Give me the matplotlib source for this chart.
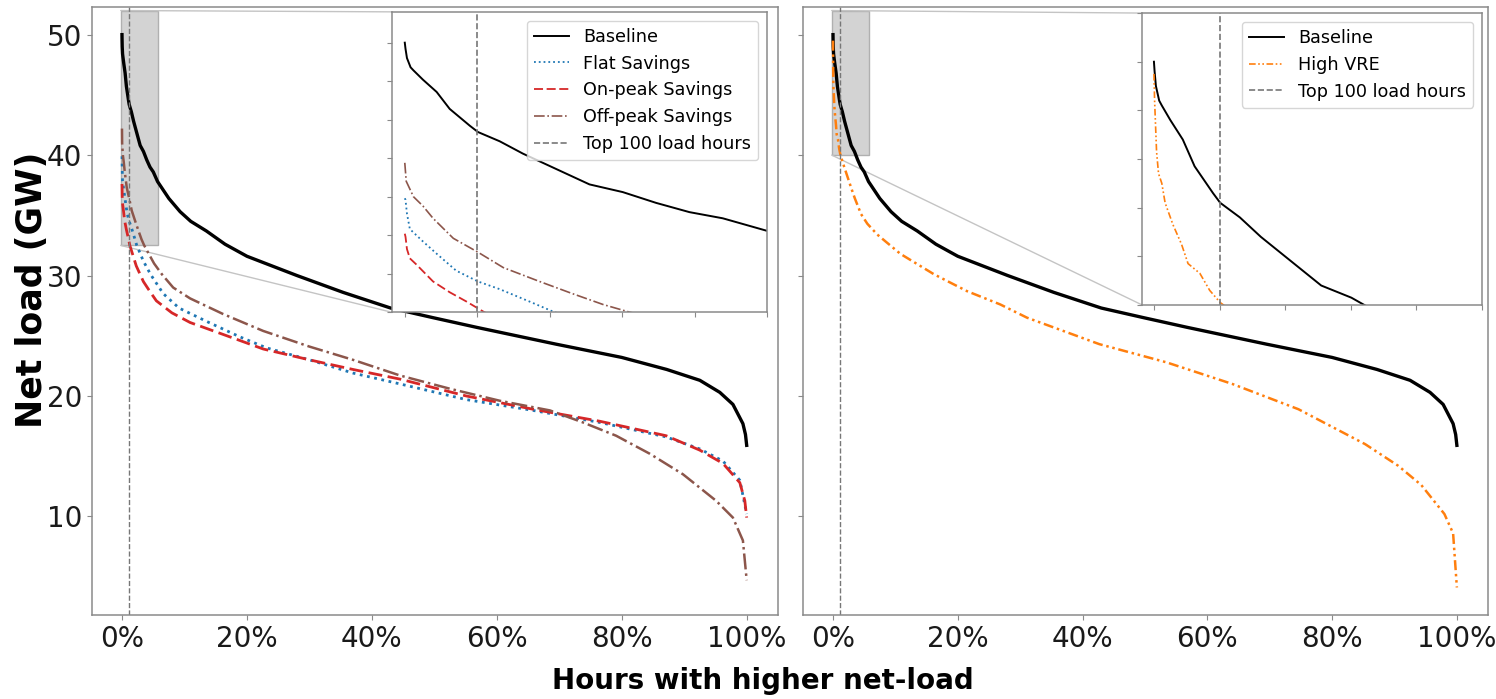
import matplotlib
matplotlib.use("Agg")
import numpy as np
import matplotlib.pyplot as plt
from matplotlib.ticker import PercentFormatter, FixedLocator, NullFormatter, MultipleLocator
from matplotlib.patches import Rectangle, ConnectionPatch

HOURS_PER_YEAR = 8760
TOP_HOURS = 100

# Net-load duration curves: hour rank (sorted descending) and net load in GW
baseline_hours = [0, 1, 3, 8, 12, 25, 44, 62, 90, 101, 131, 163, 209, 255, 301, 347, 393,
                  439, 499, 657, 815, 964, 1183, 1445, 1752, 2102, 2453, 3101, 3767, 4362,
                  4971, 6088, 7008, 7639, 8103, 8383, 8567, 8707, 8743, 8760]
baseline_gw = [50.0, 49.6, 49.0, 48.4, 48.2, 47.6, 46.8, 45.7, 44.6, 44.2, 43.6, 42.8, 41.8,
               40.8, 40.3, 39.6, 39.0, 38.6, 37.8, 36.4, 35.3, 34.5, 33.7, 32.6, 31.6, 30.8,
               30.0, 28.6, 27.3, 26.5, 25.7, 24.3, 23.2, 22.2, 21.3, 20.3, 19.3, 17.7, 16.8,
               15.9]

flat_hours = [0, 1, 3, 7, 25, 44, 71, 101, 131, 172, 207, 300, 400, 578, 800, 1183, 1656,
              2024, 2628, 3240, 3898, 4827, 5764, 6701, 7630, 8103, 8427, 8664, 8760]
flat_gw = [39.9, 39.8, 38.9, 37.9, 37.1, 36.3, 35.2, 34.5, 34.0, 33.2, 32.5, 31.2, 30.1, 28.5,
           27.3, 26.2, 24.9, 24.0, 23.0, 21.9, 21.0, 19.7, 18.8, 17.8, 16.6, 15.6, 14.6, 13.0,
           10.2]

onpeak_hours = [0, 1, 3, 7, 16, 39, 62, 85, 110, 200, 300, 400, 482, 700, 955, 1656, 1980,
                2628, 3240, 3898, 4827, 5764, 6701, 7630, 8103, 8427, 8664, 8734, 8760]
onpeak_gw = [37.6, 37.4, 36.6, 36.0, 35.6, 34.5, 33.8, 33.2, 32.5, 30.8, 29.5, 28.6, 27.9,
             26.9, 26.1, 24.6, 23.9, 23.0, 22.2, 21.4, 20.0, 18.9, 17.9, 16.7, 15.5, 14.4,
             12.8, 11.3, 9.9]

offpeak_hours = [0, 2, 12, 25, 39, 67, 101, 136, 186, 232, 274, 311, 450, 560, 718, 850, 955,
                 1419, 1980, 2628, 3240, 3898, 4599, 5300, 6001, 6465, 6929, 7402, 7866,
                 8331, 8567, 8707, 8760]
offpeak_gw = [42.2, 41.0, 40.0, 39.4, 38.6, 37.3, 36.4, 35.4, 34.5, 33.7, 33.0, 32.5, 31.0,
              30.1, 29.0, 28.5, 28.1, 26.8, 25.4, 24.1, 23.0, 21.7, 20.6, 19.6, 18.8, 17.8,
              16.7, 15.2, 13.5, 11.3, 9.9, 8.0, 4.7]

highvre_hours = [0, 1, 4, 7, 12, 17, 29, 42, 52, 70, 85, 101, 136, 254, 307, 394, 482, 622,
                 946, 1419, 1883, 2348, 2724, 3741, 4678, 5606, 6535, 7472, 7937, 8261, 8585,
                 8707, 8760]
highvre_gw = [49.5, 48.4, 46.3, 45.4, 45.0, 44.2, 43.3, 42.5, 41.7, 41.3, 40.6, 40.1, 39.4,
              37.3, 36.4, 35.1, 34.3, 33.4, 31.8, 30.1, 28.7, 27.6, 26.5, 24.3, 22.8, 21.0,
              18.9, 16.0, 14.2, 12.6, 10.2, 8.6, 4.1]

x_ticks_pct = [0.0, 0.2, 0.4, 0.6, 0.8, 1.0]
y_ticks_gw = [10, 20, 30, 40, 50]
inset_hour_ticks = [0, 100, 200, 300, 400, 500]


def frac(hours):
    return np.asarray(hours, dtype=float) / HOURS_PER_YEAR


SPINE = "#8a8a8a"

left_series = [
    ("Baseline", baseline_hours, baseline_gw, dict(color="black", ls="-"), 2.4, 1.4),
    ("Flat Savings", flat_hours, flat_gw, dict(color="#1f77b4", ls=":"), 2.0, 1.3),
    ("On-peak Savings", onpeak_hours, onpeak_gw, dict(color="#d62728", ls=(0, (5, 2))), 2.0, 1.3),
    ("Off-peak Savings", offpeak_hours, offpeak_gw, dict(color="#8c564b", ls="-."), 1.8, 1.2),
]
right_series = [
    ("Baseline", baseline_hours, baseline_gw, dict(color="black", ls="-"), 2.4, 1.4),
    ("High VRE", highvre_hours, highvre_gw,
     dict(color="#ff7f0e", ls=(0, (4, 1.5, 1, 1.5, 1, 1.5))), 1.8, 1.2),
]

# shared y-range with 5% padding around all curves
all_gw = np.concatenate([baseline_gw, flat_gw, onpeak_gw, offpeak_gw, highvre_gw])
pad = 0.05 * (all_gw.max() - all_gw.min())
y_range = (all_gw.min() - pad, all_gw.max() + pad)

fig = plt.figure(figsize=(14.96, 6.99), dpi=100)
ax_l = fig.add_axes([0.0615, 0.120, 0.4585, 0.870])
ax_r = fig.add_axes([0.5368, 0.120, 0.4579, 0.870], sharey=ax_l)


def style_axis(ax, labelsize=20, show_labels=True):
    for sp in ax.spines.values():
        sp.set_color(SPINE)
        sp.set_linewidth(1.1)
    ax.tick_params(colors=SPINE, labelcolor="#1a1a1a", labelsize=labelsize, length=3.5)
    if not show_labels:
        ax.tick_params(labelleft=False, labelbottom=False)


def build_panel(ax, series, inset_bounds, inset_ylim, inset_ystep):
    for name, h, gw, st, lw_main, lw_in in series:
        ax.plot(frac(h), gw, lw=lw_main, **st)
    ax.axvline(TOP_HOURS / HOURS_PER_YEAR, color="#777777", ls="--", lw=1.0)
    ax.xaxis.set_major_locator(FixedLocator(x_ticks_pct))
    ax.xaxis.set_major_formatter(PercentFormatter(xmax=1, decimals=0))
    ax.yaxis.set_major_locator(FixedLocator(y_ticks_gw))
    style_axis(ax)

    axins = ax.inset_axes(inset_bounds)
    handles = []
    for name, h, gw, st, lw_main, lw_in in series:
        ln, = axins.plot(frac(h), gw, lw=lw_in, label=name, **st)
        handles.append(ln)
    vl = axins.axvline(TOP_HOURS / HOURS_PER_YEAR, color="#777777", ls="--", lw=1.2,
                       label="Top 100 load hours")
    handles.append(vl)
    axins.set_xlim(-18 / HOURS_PER_YEAR, 500 / HOURS_PER_YEAR)
    axins.set_ylim(*inset_ylim)
    axins.xaxis.set_major_locator(FixedLocator(list(frac(inset_hour_ticks))))
    axins.yaxis.set_major_locator(MultipleLocator(inset_ystep))
    axins.xaxis.set_major_formatter(NullFormatter())
    axins.yaxis.set_major_formatter(NullFormatter())
    style_axis(axins, show_labels=False)
    axins.legend(handles=handles, loc="upper right", fontsize=12.7)

    # zoom region and its connectors
    x0, x1 = axins.get_xlim()
    y0, y1 = axins.get_ylim()
    ax.add_patch(Rectangle((x0, y0), x1 - x0, y1 - y0, facecolor="#d3d3d3",
                           edgecolor="#b0b0b0", lw=1.0, zorder=1))
    for (xa, ya), (xb, yb) in [((x0, y1), (0, 1)), ((x0, y0), (0, 0))]:
        cp = ConnectionPatch(xyA=(xa, ya), coordsA=ax.transData, xyB=(xb, yb),
                             coordsB=axins.transAxes, color="#c4c4c4", lw=1.0, zorder=1.5)
        ax.add_artist(cp)
    return axins


build_panel(ax_l, left_series, [0.437, 0.498, 0.547, 0.494], (32.5, 52.0), 2.5)
build_panel(ax_r, right_series, [0.495, 0.510, 0.496, 0.480], (40.0, 52.0), 2.0)
ax_l.set_ylim(*y_range)
ax_l.set_xlim(-0.048, 1.05)
ax_r.set_xlim(-0.048, 1.05)
ax_r.tick_params(labelleft=False)

fig.text(0.0214, 0.585, "Net load (GW)", rotation=90, fontsize=25, fontweight="bold",
         ha="center", va="center")
fig.text(0.51, 0.026, "Hours with higher net-load", fontsize=20, fontweight="bold",
         ha="center", va="center")

fig.savefig("out.png", dpi=100)
